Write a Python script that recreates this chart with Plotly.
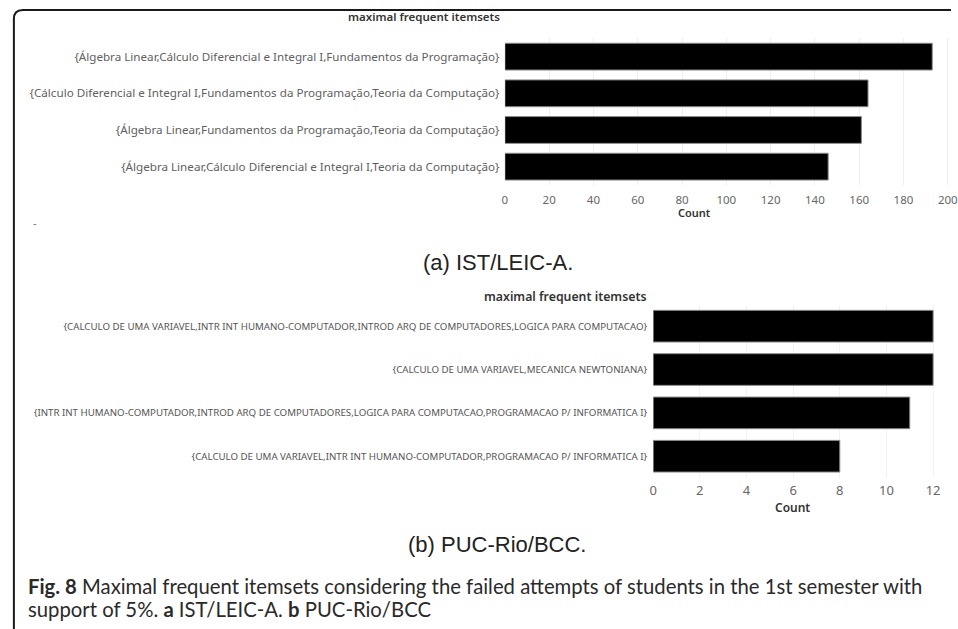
import plotly.graph_objects as go

W, H = 958, 629

# Panel (a): IST/LEIC-A
ist_itemsets = [
    "{Álgebra Linear,Cálculo Diferencial e Integral I,Fundamentos da Programação}",
    "{Cálculo Diferencial e Integral I,Fundamentos da Programação,Teoria da Computação}",
    "{Álgebra Linear,Fundamentos da Programação,Teoria da Computação}",
    "{Álgebra Linear,Cálculo Diferencial e Integral I,Teoria da Computação}",
]
ist_counts = [193, 164, 161, 146]
ist_ticks = [0, 20, 40, 60, 80, 100, 120, 140, 160, 180, 200]

# Panel (b): PUC-Rio/BCC
puc_itemsets = [
    "{CALCULO DE UMA VARIAVEL,INTR INT HUMANO-COMPUTADOR,INTROD ARQ DE COMPUTADORES,LOGICA PARA COMPUTACAO}",
    "{CALCULO DE UMA VARIAVEL,MECANICA NEWTONIANA}",
    "{INTR INT HUMANO-COMPUTADOR,INTROD ARQ DE COMPUTADORES,LOGICA PARA COMPUTACAO,PROGRAMACAO P/ INFORMATICA I}",
    "{CALCULO DE UMA VARIAVEL,INTR INT HUMANO-COMPUTADOR,PROGRAMACAO P/ INFORMATICA I}",
]
puc_counts = [12, 12, 11, 8]
puc_ticks = [0, 2, 4, 6, 8, 10, 12]


def px(x):
    return x / W


def py(y):
    return 1 - y / H


fig = go.Figure()

fig.add_trace(go.Bar(
    x=ist_counts, y=ist_itemsets, orientation="h",
    marker=dict(color="#000000", line=dict(color="#8a8a8a", width=1)),
    xaxis="x", yaxis="y", showlegend=False,
))
fig.add_trace(go.Bar(
    x=puc_counts, y=puc_itemsets, orientation="h",
    marker=dict(color="#000000", line=dict(color="#8a8a8a", width=1)),
    xaxis="x2", yaxis="y2", showlegend=False,
))

label_font = "Noto Sans, Open Sans, sans-serif"

fig.update_layout(
    width=W, height=H,
    margin=dict(l=0, r=0, t=0, b=0),
    paper_bgcolor="white", plot_bgcolor="white",
    bargap=0.27,
    xaxis=dict(
        domain=[px(506.7), 1.0], range=[0, (W - 506.7) / 2.24],
        tickvals=ist_ticks, showgrid=True, gridcolor="#efefef", gridwidth=1,
        zeroline=False, showline=False,
        ticks="outside", ticklen=4, tickcolor="rgba(0,0,0,0)",
        ticklabeloverflow="allow",
        tickfont=dict(family=label_font, size=11.5, color="#666666"),
        anchor="y",
    ),
    yaxis=dict(
        domain=[py(185), py(38.3)], autorange="reversed",
        showgrid=False, zeroline=False, showline=False,
        ticks="outside", ticklen=2, tickcolor="rgba(0,0,0,0)",
        tickfont=dict(family=label_font, size=11.65, color="#5f5f5f"),
        anchor="x",
    ),
    xaxis2=dict(
        domain=[px(656.7), 1.0], range=[0, (W - 656.7) / 23.6],
        tickvals=puc_ticks, showgrid=True, gridcolor="#f3f3f3", gridwidth=1,
        zeroline=False, showline=False,
        ticks="outside", ticklen=0, tickcolor="rgba(0,0,0,0)",
        ticklabeloverflow="allow",
        tickfont=dict(family=label_font, size=13, color="#666666"),
        anchor="y2",
    ),
    yaxis2=dict(
        domain=[py(477.9), py(304.5)], autorange="reversed",
        showgrid=False, zeroline=False, showline=False,
        ticks="outside", ticklen=3, tickcolor="rgba(0,0,0,0)",
        tickfont=dict(family=label_font, size=9.7, color="#555555"),
        anchor="x2",
    ),
)


def note(text, x, y, xanchor, font):
    return dict(text=text, x=px(x), y=py(y), xref="paper", yref="paper",
                xanchor=xanchor, yanchor="middle", showarrow=False, font=font)


ann = []
# axis headers
ann.append(note("maximal frequent itemsets", 504, 17, "right",
                dict(family=label_font, size=11.5, color="#333333", weight=600)))
ann.append(note("maximal frequent itemsets", 651, 296.7, "right",
                dict(family=label_font, size=12.3, color="#333333", weight=600)))
ann.append(note("Count", 699, 213, "center",
                dict(family=label_font, size=11, color="#333333", weight=600)))
ann.append(note("Count", 798, 507, "center",
                dict(family=label_font, size=12, color="#333333", weight=600)))
ann.append(note("-", 31, 223, "center",
                dict(family=label_font, size=11, color="#777777")))
# panel captions
sub_font = dict(family="Liberation Sans, Arial, sans-serif", size=22, color="#222222")
ann.append(note("(a) IST/LEIC-A.", 500, 262, "center", sub_font))
ann.append(note("(b) PUC-Rio/BCC.", 499, 544, "center", sub_font))
# figure caption
cap_font = dict(family="Lato, Noto Sans, sans-serif", size=20.3, color="#2a2a2a")
ann.append(note("<b>Fig. 8</b> Maximal frequent itemsets considering the failed attempts "
                "of students in the 1st semester with", 22, 586, "left", cap_font))
ann.append(note("support of 5%. <b>a</b> IST/LEIC-A. <b>b</b> PUC-Rio/BCC",
                22, 609, "left", cap_font))
fig.update_layout(annotations=ann)

# frame: top and left edges with a rounded corner
r = 9
fig.add_shape(type="path", xref="paper", yref="paper",
              path=(f"M {px(958)} {py(10)} L {px(10 + r)} {py(10)} "
                    f"Q {px(10)} {py(10)} {px(10)} {py(10 + r)} L {px(10)} {py(629)}"),
              line=dict(color="#1a1a1a", width=2))

fig.write_html("out.html")

# drop the default page margin so the figure sits flush in the window
with open("out.html", encoding="utf-8") as f:
    page = f.read()
page = page.replace("<head>", "<head><style>html,body{margin:0;padding:0;overflow:hidden}</style>", 1)
with open("out.html", "w", encoding="utf-8") as f:
    f.write(page)
